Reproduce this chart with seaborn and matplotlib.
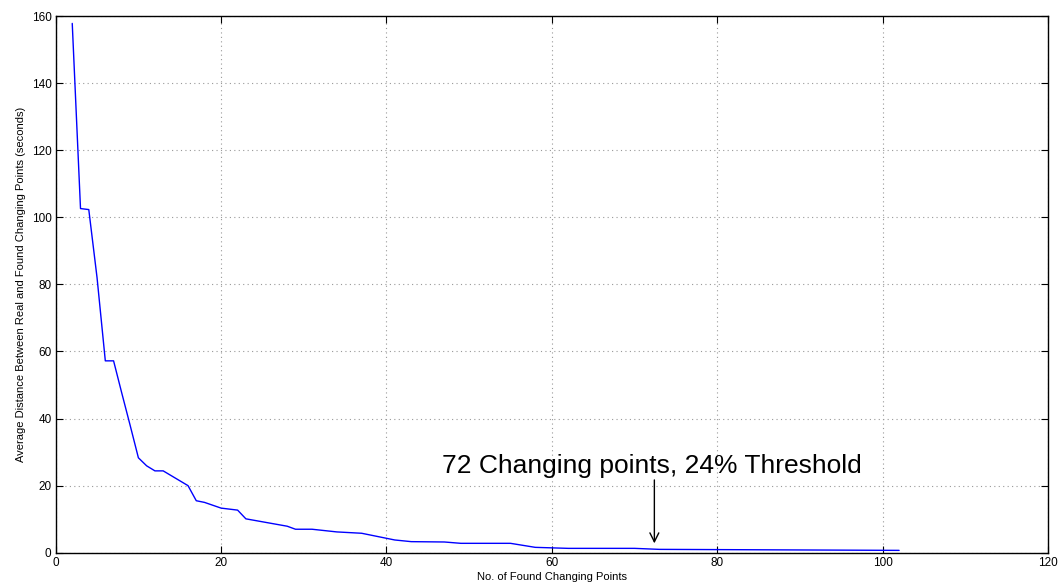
import numpy as np
import pandas as pd
import matplotlib; matplotlib.use("Agg")
import matplotlib.pyplot as plt
import seaborn as sns

# values
n_points = [2, 3, 4, 5, 6, 7, 8, 9, 10, 11, 12, 13, 16, 17, 18, 20, 22, 23,
            28, 29, 31, 34, 37, 39, 41, 43, 47, 49, 55, 58, 62, 70, 73, 102]
avg_dist = [157.8, 102.6, 102.3, 82.0, 57.2, 57.2, 47.5, 38.0, 28.3, 25.9,
            24.4, 24.4, 20.0, 15.5, 15.0, 13.3, 12.7, 10.1, 7.9, 7.0, 7.0,
            6.2, 5.8, 4.8, 3.8, 3.3, 3.2, 2.8, 2.8, 1.6, 1.3, 1.3, 1.0, 0.7]

ANN_TEXT = "72 Changing points, 24% Threshold"
ANN_X    = 72.4
ANN_TOP  = 21.7
ANN_TIP  = 2.8

df = pd.DataFrame({"n": n_points, "d": avg_dist})

sns.set_theme(style="white")
plt.rcParams["font.family"] = ["Liberation Sans", "DejaVu Sans"]
plt.rcParams["text.color"] = "black"
plt.rcParams["axes.labelcolor"] = "black"

fig = plt.figure(figsize=(10.61, 5.87), dpi=100)
ax = fig.add_axes([0.0525, 0.0584, 0.9352, 0.9143])

sns.lineplot(data=df, x="n", y="d", color=(0, 0, 1), lw=1, ax=ax)

ax.set_xlim(0, 120); ax.set_ylim(0, 160)
ax.set_xticks(np.arange(0, 121, 20)); ax.set_yticks(np.arange(0, 161, 20))
ax.grid(True, color="#999999", ls=(0, (1, 3)), lw=0.8)
ax.tick_params(direction="in", length=5, width=0.8, labelsize=8.5, colors="black",
               top=True, right=True, bottom=True, left=True, pad=3)
for s in ax.spines.values():
    s.set_color("black"); s.set_linewidth(1)
ax.set_xlabel("No. of Found Changing Points", fontsize=8, labelpad=2)
ax.set_ylabel("Average Distance Between Real and Found Changing Points (seconds)",
              fontsize=8, labelpad=4)

ax.annotate("", xy=(ANN_X, ANN_TIP), xytext=(ANN_X, ANN_TOP),
            arrowprops=dict(arrowstyle="->", color="black", lw=1,
                            mutation_scale=16, shrinkA=0, shrinkB=0))
ax.text(ANN_X - 0.3, 23.8, ANN_TEXT, fontsize=19, ha="center", va="baseline",
        color="black")

fig.savefig("out.png", dpi=100)
